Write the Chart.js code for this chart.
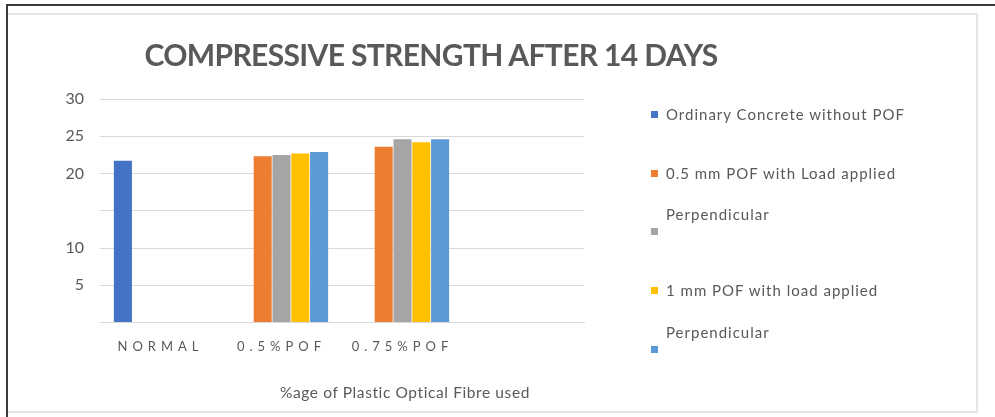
<!DOCTYPE html>
<html>
<head>
<meta charset="utf-8">
<script src="https://cdn.jsdelivr.net/npm/chart.js@4.4.1/dist/chart.umd.min.js"></script>
<style>
  html, body { margin: 0; padding: 0; background: #fff; }
  #wrap { position: relative; width: 995px; height: 417px; overflow: hidden; font-family: Lato, "Open Sans", sans-serif; color: #595959; }
  .edge { position: absolute; }
  #chart { position: absolute; left: 0; top: 0; }
  #title { position: absolute; left: 0; width: 862px; top: 36px; text-align: center; font-weight: bold; font-size: 30px; letter-spacing: -0.65px; color: #595959; white-space: nowrap; }
  #xtitle { position: absolute; left: 255px; width: 300px; top: 383px; text-align: center; font-size: 15.5px; letter-spacing: 0.6px; white-space: nowrap; }
  #legend { position: absolute; left: 0; top: 0; }
  .item { position: absolute; left: 651px; display: flex; align-items: flex-end; font-size: 15px; line-height: 17px; letter-spacing: 1px; white-space: nowrap; }
  .swatch { width: 7px; height: 7px; margin-right: 8px; margin-bottom: 5px; flex: none; }
  .text { display: block; }
</style>
</head>
<body>
<div id="wrap">
  <!-- outer frame lines -->
  <div class="edge" style="left:6px;top:4px;width:989px;height:2px;background:#3a3a3a"></div>
  <div class="edge" style="left:6px;top:4px;width:2px;height:413px;background:#3a3a3a"></div>
  <div class="edge" style="left:8px;top:13px;width:970px;height:2px;background:#e6e6e6"></div>
  <div class="edge" style="left:976px;top:13px;width:2px;height:399px;background:#e6e6e6"></div>
  <div class="edge" style="left:8px;top:411px;width:970px;height:2px;background:#e6e6e6"></div>

  <canvas id="chart" width="995" height="417"></canvas>
  <div id="title"></div>
  <div id="xtitle"></div>
  <div id="legend"></div>
</div>
<script>
// Chart text
const chartTitle = 'COMPRESSIVE STRENGTH AFTER 14 DAYS';
const xAxisTitle = '%age of Plastic Optical Fibre used';

// Categories on the x axis (the last slot is left empty)
const categories = ['NORMAL', '0.5%POF', '0.75%POF', ''];

// Series names ("\n" pushes the swatch onto a second legend line)
const seriesNames = [
  'Ordinary Concrete without POF',
  '0.5 mm POF with Load applied',
  'Perpendicular\n',
  '1 mm POF with load applied',
  'Perpendicular\n'
];
const seriesColors = ['#4472C4', '#ED7D31', '#A5A5A5', '#FFC000', '#5B9BD5'];

// Compressive strength values (N/mm²) per series, one per category
const ordinaryConcrete = [21.7, null, null, null];
const pof05Load        = [null, 22.3, 23.6, null];
const pof05Perp        = [null, 22.5, 24.6, null];
const pof1Load         = [null, 22.7, 24.2, null];
const pof1Perp         = [null, 22.9, 24.6, null];
const seriesValues = [ordinaryConcrete, pof05Load, pof05Perp, pof1Load, pof1Perp];

// Labelled y ticks
const yTickLabels = [5, 10, 20, 25, 30];

document.getElementById('title').textContent = chartTitle;
document.getElementById('xtitle').textContent = xAxisTitle;

// Letter-spaced category labels on the x axis
const spacedXTicks = {
  id: 'spacedXTicks',
  afterUpdate(chart) {
    const s = chart.scales.x;
    if (!s || s._spaced) return;
    const orig = s.drawLabels.bind(s);
    s.drawLabels = function (area) {
      const ctx = this.ctx;
      ctx.save();
      ctx.letterSpacing = '5px';
      orig(area);
      ctx.restore();
    };
    s._spaced = true;
  }
};

const chart = new Chart(document.getElementById('chart'), {
  type: 'bar',
  data: {
    labels: categories,
    datasets: seriesValues.map((vals, i) => ({
      label: seriesNames[i],
      data: vals,
      backgroundColor: seriesColors[i],
      borderWidth: 0
    }))
  },
  options: {
    responsive: false,
    animation: false,
    devicePixelRatio: 1,
    datasets: { bar: { categoryPercentage: 0.777, barPercentage: 0.96 } },
    layout: { padding: { left: 55, right: 411, top: 99, bottom: 54.5 } },
    plugins: {
      legend: { display: false },
      title: { display: false },
      tooltip: { enabled: false }
    },
    scales: {
      x: {
        grid: { display: false },
        border: { display: true, color: '#d9d9d9', width: 1 },
        ticks: {
          color: '#595959',
          font: { family: 'Lato', size: 13 },
          padding: 9,
          autoSkip: false,
          maxRotation: 0
        },
        afterFit(scale) { scale.height = 40; }
      },
      y: {
        min: 0,
        max: 30,
        border: { display: false },
        grid: { color: '#d9d9d9', lineWidth: 1, drawTicks: false },
        ticks: {
          stepSize: 5,
          color: '#595959',
          font: { family: 'Lato', size: 16 },
          padding: 16,
          callback: v => yTickLabels.includes(v) ? String(v) : ''
        },
        afterFit(scale) { scale.width = 45; }
      }
    }
  },
  plugins: [spacedXTicks]
});

// Legend built from the chart's datasets
const legend = document.getElementById('legend');
const firstRow = 114.5, rowStep = 58.7, lineH = 17;
chart.data.datasets.forEach((ds, i) => {
  const lines = ds.label.split('\n');
  const item = document.createElement('div');
  item.className = 'item';
  const markerCenter = firstRow + i * rowStep;
  item.style.top = (markerCenter - (lines.length - 0.5) * lineH) + 'px';
  const sw = document.createElement('span');
  sw.className = 'swatch';
  sw.style.background = ds.backgroundColor;
  const tx = document.createElement('span');
  tx.className = 'text';
  tx.style.height = (lines.length * lineH) + 'px';
  lines.forEach(line => {
    const row = document.createElement('div');
    row.style.height = lineH + 'px';
    row.textContent = line;
    tx.appendChild(row);
  });
  item.appendChild(sw);
  item.appendChild(tx);
  legend.appendChild(item);
});
</script>
</body>
</html>
